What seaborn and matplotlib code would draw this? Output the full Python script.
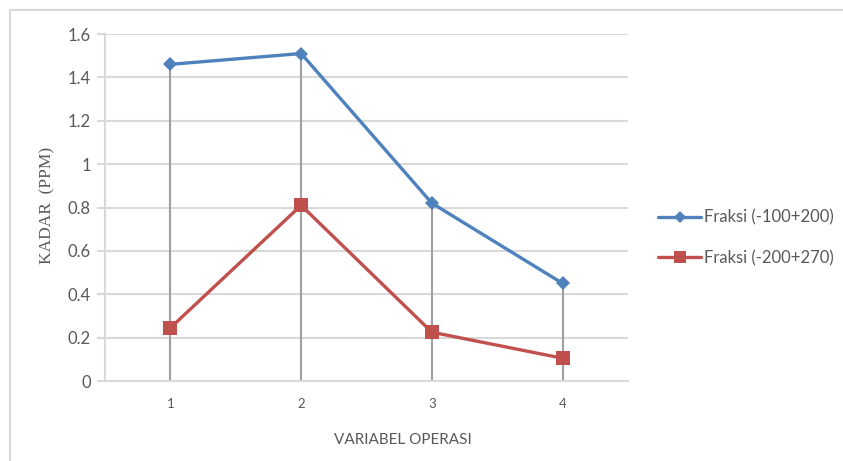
import matplotlib
matplotlib.use("Agg")
import matplotlib.pyplot as plt
import seaborn as sns
import pandas as pd
import numpy as np
from matplotlib.lines import Line2D

categories = [1, 2, 3, 4]
series_names = ["Fraksi (-100+200)", "Fraksi (-200+270)"]
fraksi_100_200 = [1.46, 1.51, 0.82, 0.45]
fraksi_200_270 = [0.245, 0.81, 0.225, 0.105]
y_ticks = [0, 0.2, 0.4, 0.6, 0.8, 1, 1.2, 1.4, 1.6]
y_tick_labels = ["0", "0.2", "0.4", "0.6", "0.8", "1", "1.2", "1.4", "1.6"]

df = pd.DataFrame({
    "cat": categories * 2,
    "val": fraksi_100_200 + fraksi_200_270,
    "series": [series_names[0]] * 4 + [series_names[1]] * 4,
})

sns.set_theme(style="white")
plt.rcParams["font.family"] = ["Lato", "DejaVu Sans"]

fig = plt.figure(figsize=(8.43, 4.61), dpi=100)
ax = fig.add_axes([105 / 843, 1 - 381 / 461, (628 - 105) / 843, (381 - 34) / 461])

blue = "#4F81BD"
red = "#C0504D"
grid_c = "#D9D9D9"
txt_c = "#595959"

# gridlines
for t in y_ticks:
    ax.axhline(t, color=grid_c, lw=1.5, zorder=0)

# drop lines
tops = np.maximum(fraksi_100_200, fraksi_200_270)
ax.vlines(categories, 0, tops, color="#A0A0A0", lw=1.5, zorder=1)

sns.lineplot(data=df, x="cat", y="val", hue="series", style="series",
             markers={series_names[0]: "D", series_names[1]: "s"},
             dashes=False, palette={series_names[0]: blue, series_names[1]: red},
             linewidth=2.4, markeredgewidth=0, ax=ax, legend=False, zorder=3)
for ln, ms in zip(ax.lines[-2:], [7, 10]):
    ln.set_markersize(ms)

ax.set_xlim(0.5, 4.5)
ax.set_ylim(0, 1.6)
ax.set_xticks(categories)
ax.set_xticklabels([str(c) for c in categories], fontsize=9.5, color=txt_c)
ax.set_yticks(y_ticks)
ax.set_yticklabels(y_tick_labels, fontsize=12, color=txt_c)
ax.tick_params(axis="x", length=0, pad=12)
ax.tick_params(axis="y", length=6, color=grid_c, width=1.5, pad=4, left=True)
for s in ["top", "right"]:
    ax.spines[s].set_visible(False)
ax.spines["left"].set_color(grid_c)
ax.spines["bottom"].set_color(grid_c)
ax.spines["left"].set_linewidth(1.5)
ax.spines["bottom"].set_linewidth(1.5)
ax.set_xlabel("")
ax.set_ylabel("")
ax.margins(0)

fig.text(403 / 843, 1 - 440 / 461, "VARIABEL OPERASI", ha="center", va="center",
         fontsize=11, color=txt_c)
fig.text(47 / 843, 1 - 205 / 461, "KADAR  (PPM)", ha="center", va="center",
         rotation=90, fontsize=12.5, color=txt_c, family=["Liberation Serif"])

handles = [
    Line2D([], [], color=blue, lw=2.4, marker="D", markersize=6, markeredgewidth=0),
    Line2D([], [], color=red, lw=2.4, marker="s", markersize=8, markeredgewidth=0),
]
leg = fig.legend(handles, series_names, loc="center left",
                 bbox_to_anchor=(643 / 843, 1 - 238 / 461), frameon=False,
                 fontsize=12, handlelength=2.6, handletextpad=0.15,
                 labelspacing=1.45, labelcolor=txt_c)

# outer border
fig.add_artist(Line2D([10 / 843, 1], [1 - 10 / 461, 1 - 10 / 461],
                      transform=fig.transFigure, color="#D9D9D9", lw=1.5))
fig.add_artist(Line2D([10 / 843, 10 / 843], [0, 1 - 10 / 461],
                      transform=fig.transFigure, color="#D9D9D9", lw=1.5))

fig.savefig("out.png", dpi=100)
